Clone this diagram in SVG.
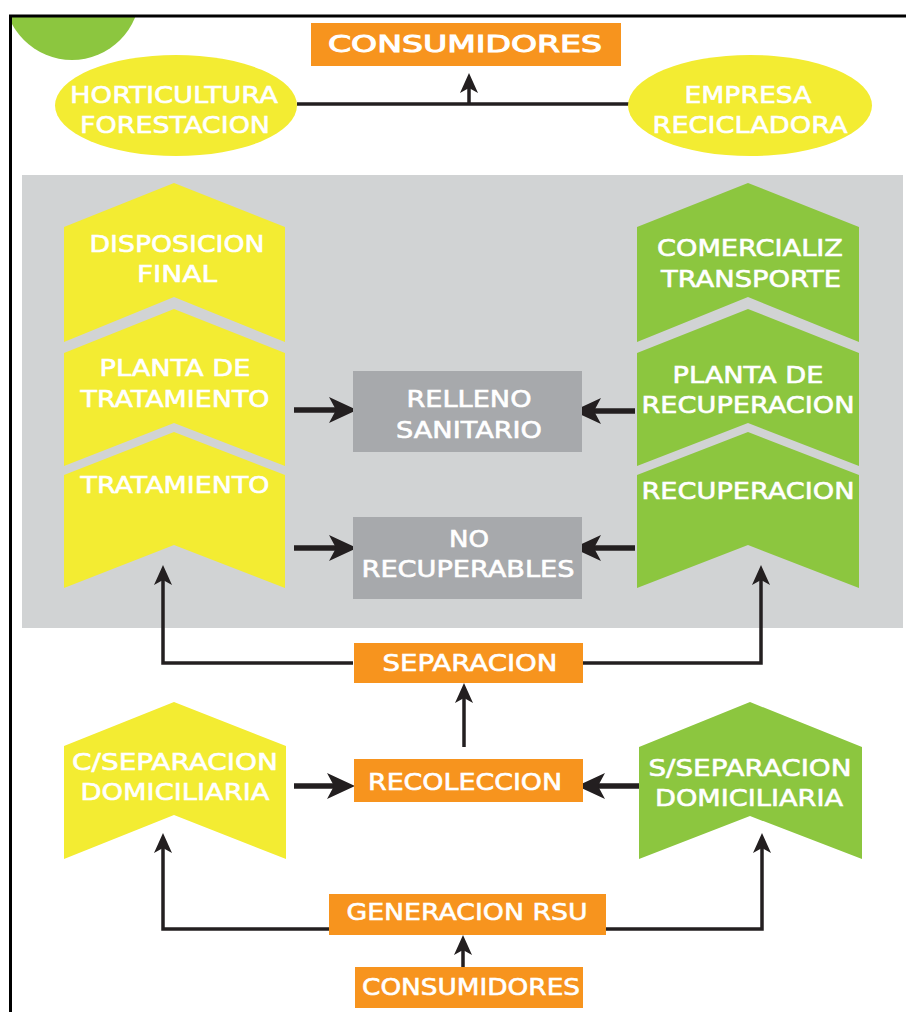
<svg xmlns="http://www.w3.org/2000/svg" width="906" height="1012" viewBox="0 0 906 1012">
<style>
  text { font-family: "DejaVu Sans", "Liberation Sans", sans-serif; fill: #ffffff; stroke: #ffffff; stroke-width: 0.6; text-anchor: middle; font-size: 23px; }
  .big { stroke-width: 1; }
  .yellow { fill: #f3ec32; }
  .green { fill: #8cc63f; }
  .orange { fill: #f7941e; }
  .gbox { fill: #a7a9ac; }
  .ln { fill: none; stroke: #231f20; stroke-width: 3.5; }
  .thick { fill: none; stroke: #231f20; stroke-width: 5.5; }
</style>
<defs>
  <clipPath id="frameClip"><rect x="12" y="17" width="894" height="995"/></clipPath>
  <marker id="ah" markerUnits="userSpaceOnUse" viewBox="0 0 20 18" refX="12" refY="9" markerWidth="20" markerHeight="18" orient="auto">
    <path d="M0,0 L20,9 L0,18 L5,9 Z" fill="#231f20"/>
  </marker>
  <marker id="ahT" markerUnits="userSpaceOnUse" viewBox="0 0 28 26" refX="18" refY="13" markerWidth="28" markerHeight="26" orient="auto">
    <path d="M0,0 L28,13 L0,26 L7,13 Z" fill="#231f20"/>
  </marker>
</defs>

<rect x="0" y="0" width="906" height="1012" fill="#ffffff"/>

<!-- decorative corner circle -->
<g id="corner">
  <circle cx="72" cy="-8" r="68" fill="#8cc63f" clip-path="url(#frameClip)"/>
</g>

<!-- frame -->
<g id="frame" fill="none" stroke="#000000" stroke-width="3">
  <path d="M10.5,1012 L10.5,16 L906,16"/>
</g>

<!-- gray panel -->
<rect id="panel" x="22" y="175" width="881" height="453" fill="#d1d3d4"/>

<g id="connectors">
  <!-- top -->
  <path class="ln" d="M297,104 L630,104"/>
  <path class="ln" d="M469,104 L469,81" marker-end="url(#ah)"/>
  <!-- into gray boxes -->
  <path class="thick" d="M294,410 L347,410" marker-end="url(#ahT)"/>
  <path class="thick" d="M294,548 L347,548" marker-end="url(#ahT)"/>
  <path class="thick" d="M635,411 L583,411" marker-end="url(#ahT)"/>
  <path class="thick" d="M635,548 L583,548" marker-end="url(#ahT)"/>
  <!-- separacion to chevrons -->
  <path class="ln" d="M353,663 L163,663 L163,573" marker-end="url(#ah)"/>
  <path class="ln" d="M582,663 L761,663 L761,573" marker-end="url(#ah)"/>
  <!-- recoleccion to separacion -->
  <path class="ln" d="M464,747 L464,691" marker-end="url(#ah)"/>
  <!-- domiciliaria to recoleccion -->
  <path class="thick" d="M294,786 L345,786" marker-end="url(#ahT)"/>
  <path class="thick" d="M640,786 L587,786" marker-end="url(#ahT)"/>
  <!-- generacion to domiciliaria -->
  <path class="ln" d="M329,929 L163,929 L163,841" marker-end="url(#ah)"/>
  <path class="ln" d="M606,929 L762,929 L762,841" marker-end="url(#ah)"/>
  <!-- consumidores to generacion -->
  <path class="ln" d="M463,967 L463,943" marker-end="url(#ah)"/>
</g>

<g id="consumidores-top">
  <rect class="orange" x="311" y="23" width="310" height="43"/>
  <text class="big" x="465" y="52" font-size="26" textLength="274" lengthAdjust="spacingAndGlyphs">CONSUMIDORES</text>
</g>

<g id="horticultura">
  <ellipse class="yellow" cx="176" cy="105.5" rx="121" ry="50.5"/>
  <text x="174" y="103" font-size="24" textLength="208" lengthAdjust="spacingAndGlyphs">HORTICULTURA</text>
  <text x="175" y="133" font-size="24" textLength="190" lengthAdjust="spacingAndGlyphs">FORESTACION</text>
</g>

<g id="empresa">
  <ellipse class="yellow" cx="750" cy="105.5" rx="122" ry="50.5"/>
  <text x="748" y="103" font-size="24" textLength="127" lengthAdjust="spacingAndGlyphs">EMPRESA</text>
  <text x="750" y="133" font-size="24" textLength="195" lengthAdjust="spacingAndGlyphs">RECICLADORA</text>
</g>

<g id="disposicion-final">
  <polygon class="yellow" points="64,227 174,183 285,227 285,342 174,297 64,342"/>
  <text x="177" y="252" textLength="175" lengthAdjust="spacingAndGlyphs">DISPOSICION</text>
  <text x="177" y="282" textLength="80" lengthAdjust="spacingAndGlyphs">FINAL</text>
</g>

<g id="planta-tratamiento">
  <polygon class="yellow" points="64,353 174,309 285,353 285,466 174,423 64,466"/>
  <text x="175" y="376" textLength="151" lengthAdjust="spacingAndGlyphs">PLANTA DE</text>
  <text x="175" y="407" textLength="189" lengthAdjust="spacingAndGlyphs">TRATAMIENTO</text>
</g>

<g id="tratamiento">
  <polygon class="yellow" points="64,475 174,432 285,475 285,588 174,545 64,588"/>
  <text x="175" y="493" textLength="189" lengthAdjust="spacingAndGlyphs">TRATAMIENTO</text>
</g>

<g id="comercializ">
  <polygon class="green" points="637,227 748,183 859,227 859,342 748,297 637,342"/>
  <text x="750" y="256" textLength="186" lengthAdjust="spacingAndGlyphs">COMERCIALIZ</text>
  <text x="751" y="287" textLength="180" lengthAdjust="spacingAndGlyphs">TRANSPORTE</text>
</g>

<g id="planta-recuperacion">
  <polygon class="green" points="637,353 748,309 859,353 859,466 748,423 637,466"/>
  <text x="748" y="383" textLength="151" lengthAdjust="spacingAndGlyphs">PLANTA DE</text>
  <text x="748" y="413" textLength="213" lengthAdjust="spacingAndGlyphs">RECUPERACION</text>
</g>

<g id="recuperacion">
  <polygon class="green" points="637,475 748,432 859,475 859,588 748,545 637,588"/>
  <text x="748" y="499" textLength="213" lengthAdjust="spacingAndGlyphs">RECUPERACION</text>
</g>

<g id="relleno-sanitario">
  <rect class="gbox" x="353" y="371" width="229" height="81"/>
  <text x="469" y="407" textLength="125" lengthAdjust="spacingAndGlyphs">RELLENO</text>
  <text x="469" y="438" textLength="146" lengthAdjust="spacingAndGlyphs">SANITARIO</text>
</g>

<g id="no-recuperables">
  <rect class="gbox" x="353" y="517" width="229" height="82"/>
  <text x="469" y="547" textLength="40" lengthAdjust="spacingAndGlyphs">NO</text>
  <text x="468" y="577" textLength="213" lengthAdjust="spacingAndGlyphs">RECUPERABLES</text>
</g>

<g id="separacion">
  <rect class="orange" x="354" y="643" width="229" height="40"/>
  <text x="470" y="671" font-size="22" textLength="175" lengthAdjust="spacingAndGlyphs">SEPARACION</text>
</g>

<g id="recoleccion">
  <rect class="orange" x="354" y="759" width="229" height="43"/>
  <text x="465" y="790" textLength="194" lengthAdjust="spacingAndGlyphs">RECOLECCION</text>
</g>

<g id="c-separacion">
  <polygon class="yellow" points="64,746 174,702 286,746 286,859 174,815 64,859"/>
  <text x="175" y="770" textLength="206" lengthAdjust="spacingAndGlyphs">C/SEPARACION</text>
  <text x="175" y="800" textLength="189" lengthAdjust="spacingAndGlyphs">DOMICILIARIA</text>
</g>

<g id="s-separacion">
  <polygon class="green" points="639,747 750,702 862,747 862,859 750,816 639,859"/>
  <text x="750" y="776" textLength="203" lengthAdjust="spacingAndGlyphs">S/SEPARACION</text>
  <text x="749" y="806" textLength="188" lengthAdjust="spacingAndGlyphs">DOMICILIARIA</text>
</g>

<g id="generacion-rsu">
  <rect class="orange" x="329" y="894" width="277" height="41"/>
  <text x="467" y="920" font-size="22" textLength="241" lengthAdjust="spacingAndGlyphs">GENERACION RSU</text>
</g>

<g id="consumidores-bottom">
  <rect class="orange" x="355" y="967" width="228" height="41"/>
  <text x="471" y="995" font-size="22" textLength="218" lengthAdjust="spacingAndGlyphs">CONSUMIDORES</text>
</g>
</svg>
